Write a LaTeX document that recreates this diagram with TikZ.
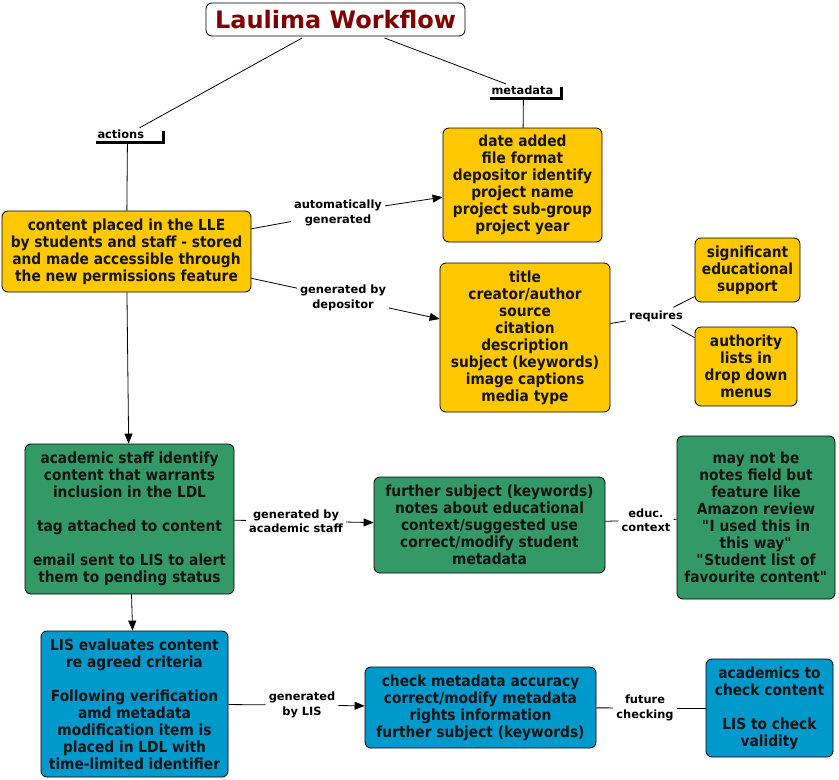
\documentclass[tikz,border=0pt]{standalone}
\usepackage{fontspec}
\setmainfont{DejaVu Sans}
\newfontfamily\boxfont[FakeStretch=0.9]{DejaVu Sans}
\usetikzlibrary{arrows.meta,shadows}
\definecolor{yfill}{RGB}{255,200,0}
\definecolor{gfill}{RGB}{51,153,102}
\definecolor{bfill}{RGB}{0,153,204}
\definecolor{titlered}{RGB}{128,0,0}
\definecolor{boxtext}{RGB}{20,20,20}
\begin{document}
\begin{tikzpicture}[x=1pt,y=-1pt,
  concept/.style={draw=black, line width=0.8pt, rounded corners=6pt, inner sep=0pt,
    align=center, font=\boxfont\bfseries\fontsize{15.3}{17}\selectfont, text=boxtext},
  yconcept/.style={concept, fill=yfill},
  gconcept/.style={concept, fill=gfill},
  bconcept/.style={concept, fill=bfill},
  link/.style={font=\bfseries\fontsize{11.4}{14.5}\selectfont, align=center, inner sep=3pt},
  toplink/.style={font=\bfseries\fontsize{11.4}{13}\selectfont, align=left, fill=white,
    inner xsep=4.5pt, inner ysep=0pt, minimum height=13pt,
    general shadow={fill=black, shadow xshift=3pt, shadow yshift=-3pt}},
  conn/.style={line width=0.8pt, draw=black},
  arr/.style={conn, -{Triangle[length=10pt,width=8pt]}},
]
\fill[white] (0,0) rectangle (839,780);
\useasboundingbox (0,0) rectangle (839,780);

% title
\node[draw=black, line width=0.8pt, rounded corners=6pt, fill=white, outer sep=2pt,
  minimum width=259pt, minimum height=33pt, inner sep=0pt,
  font=\bfseries\fontsize{24}{28}\selectfont, text=titlered] (title) at (335.5,19.5) {Laulima Workflow};

% top linking phrases
\node[toplink, text width=60pt] (actions) at (127.5,134.5) {actions};
\node[toplink, text width=64pt] (metadata) at (523.5,90.5) {metadata};

% yellow concepts
\node[yconcept, minimum width=249pt, minimum height=81pt] (content) at (126.5,251.5)
  {content placed in the LLE\\by students and staff - stored\\and made accessible through\\the new permissions feature};
\node[yconcept, minimum width=159pt, minimum height=114pt] (meta1) at (522.5,185)
  {date added\\file format\\depositor identify\\project name\\project sub-group\\project year};
\node[yconcept, minimum width=170pt, minimum height=149pt] (meta2) at (525,337.5)
  {title\\creator/author\\source\\citation\\description\\subject (keywords)\\image captions\\media type};
\node[yconcept, minimum width=105pt, minimum height=64pt] (sig) at (747.5,270)
  {significant\\educational\\support};
\node[yconcept, minimum width=102pt, minimum height=79pt] (auth) at (746,366.5)
  {authority\\lists in\\drop down\\menus};

% green concepts
\node[gconcept, minimum width=209pt, minimum height=150pt] (green1) at (129.5,519)
  {academic staff identify\\content that warrants\\inclusion in the LDL\\[17pt]tag attached to content\\[17pt]email sent to LIS to alert\\them to pending status};
\node[gconcept, minimum width=231pt, minimum height=96pt] (green2) at (489.5,525)
  {further subject (keywords)\\notes about educational\\context/suggested use\\correct/modify student\\metadata};
\node[gconcept, minimum width=158pt, minimum height=163pt] (green3) at (756,517.5)
  {may not be\\notes field but\\feature like\\Amazon review\\\textquotedbl I used this in\\this way\textquotedbl\\\textquotedbl Student list of\\favourite content\textquotedbl};

% blue concepts
\node[bconcept, minimum width=187pt, minimum height=146pt] (blue1) at (134.5,704)
  {LIS evaluates content\\re agreed criteria\\[17pt]Following verification\\amd metadata\\modification item is\\placed in LDL with\\time-limited identifier};
\node[bconcept, minimum width=231pt, minimum height=81pt] (blue2) at (480.5,707.5)
  {check metadata accuracy\\correct/modify metadata\\rights information\\further subject (keywords)};
\node[bconcept, minimum width=127pt, minimum height=98pt] (blue3) at (769.5,708)
  {academics to\\check content\\[17pt]LIS to check\\validity};

% linking phrases
\node[link] (auto) at (338,213) {automatically\\generated};
\node[link] (dep) at (343,298) {generated by\\depositor};
\node[link] (req) at (656,316) {requires};
\node[link] (gacad) at (296,521) {generated by\\academic staff};
\node[link] (educ) at (646,520) {educ.\\context};
\node[link] (glis) at (302,705) {generated\\by LIS};
\node[link] (fut) at (645,708) {future\\checking};

% connectors
\draw[conn] (title) -- (actions);
\draw[conn] (title) -- (metadata);
\draw[conn] (actions) -- (content);
\draw[conn] (metadata) -- (meta1);
\draw[conn] (content) -- (auto);
\draw[arr] (auto) -- (meta1);
\draw[conn] (content) -- (dep);
\draw[arr] (dep) -- (meta2);
\draw[conn] (meta2) -- (req);
\draw[conn] (req) -- (sig);
\draw[conn] (req) -- (auth);
\draw[arr] (content) -- (green1);
\draw[conn] (green1) -- (gacad);
\draw[arr] (gacad) -- (green2);
\draw[conn] (green2) -- (educ);
\draw[conn] (educ) -- (green3);
\draw[arr] (green1) -- (blue1);
\draw[conn] (blue1) -- (glis);
\draw[arr] (glis) -- (blue2);
\draw[conn] (blue2) -- (fut);
\draw[conn] (fut) -- (blue3);
\end{tikzpicture}
\end{document}
